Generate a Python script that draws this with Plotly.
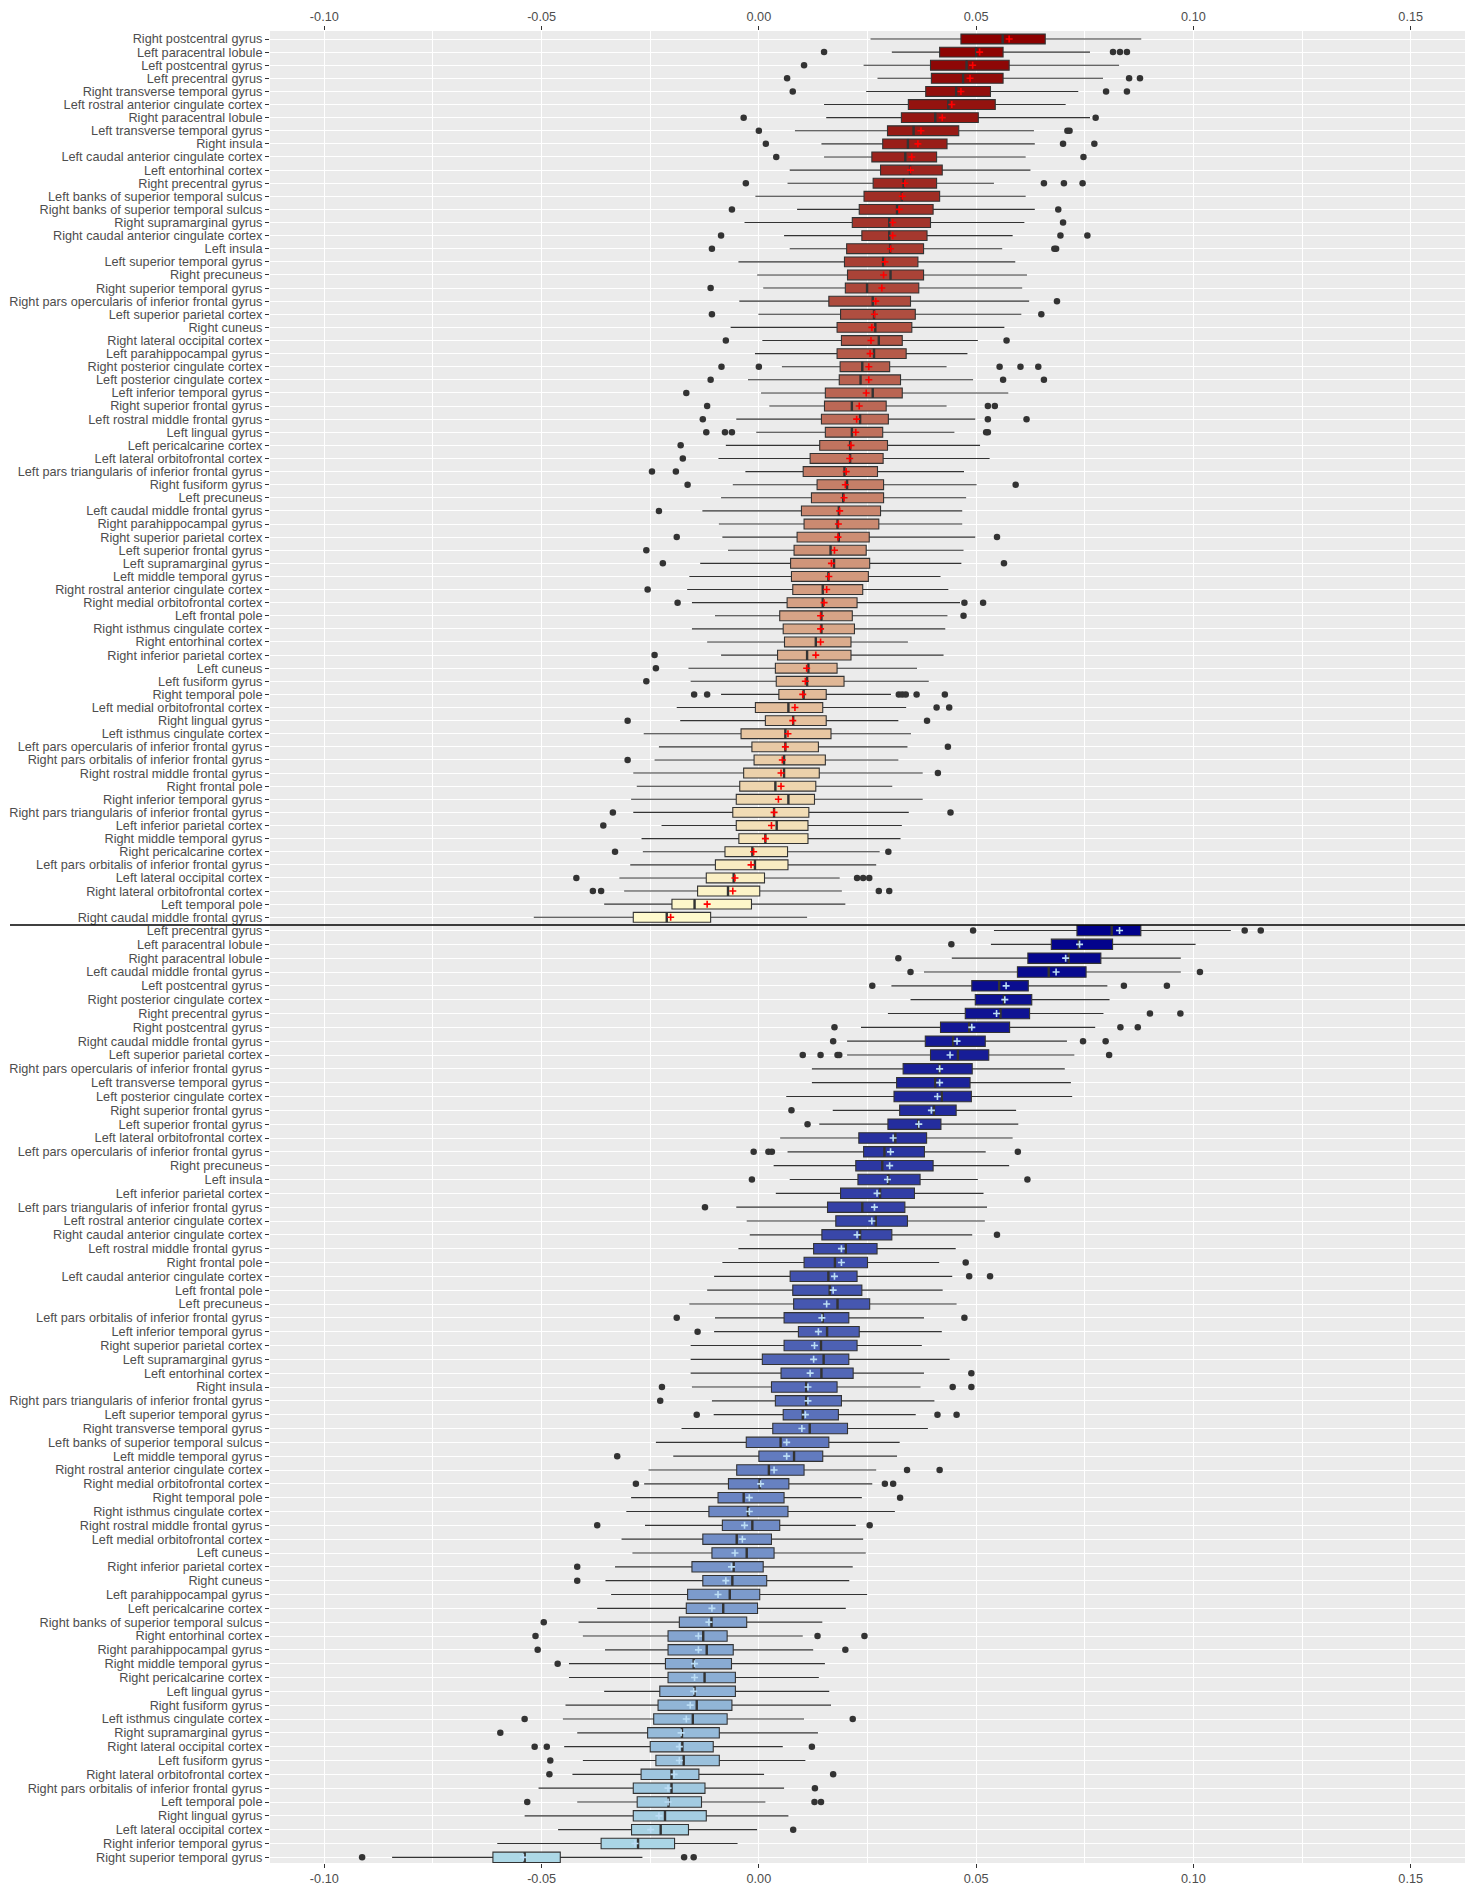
import plotly.graph_objects as go

# ---------------- data: top panel ----------------
top_labels = [
    "Right postcentral gyrus", "Left paracentral lobule", "Left postcentral gyrus", "Left precentral gyrus",
    "Right transverse temporal gyrus", "Left rostral anterior cingulate cortex", "Right paracentral lobule",
    "Left transverse temporal gyrus", "Right insula", "Left caudal anterior cingulate cortex", "Left entorhinal cortex",
    "Right precentral gyrus", "Left banks of superior temporal sulcus", "Right banks of superior temporal sulcus",
    "Right supramarginal gyrus", "Right caudal anterior cingulate cortex", "Left insula", "Left superior temporal gyrus",
    "Right precuneus", "Right superior temporal gyrus", "Right pars opercularis of inferior frontal gyrus",
    "Left superior parietal cortex", "Right cuneus", "Right lateral occipital cortex", "Left parahippocampal gyrus",
    "Right posterior cingulate cortex", "Left posterior cingulate cortex", "Left inferior temporal gyrus",
    "Right superior frontal gyrus", "Left rostral middle frontal gyrus", "Left lingual gyrus", "Left pericalcarine cortex",
    "Left lateral orbitofrontal cortex", "Left pars triangularis of inferior frontal gyrus", "Right fusiform gyrus",
    "Left precuneus", "Left caudal middle frontal gyrus", "Right parahippocampal gyrus", "Right superior parietal cortex",
    "Left superior frontal gyrus", "Left supramarginal gyrus", "Left middle temporal gyrus",
    "Right rostral anterior cingulate cortex", "Right medial orbitofrontal cortex", "Left frontal pole",
    "Right isthmus cingulate cortex", "Right entorhinal cortex", "Right inferior parietal cortex", "Left cuneus",
    "Left fusiform gyrus", "Right temporal pole", "Left medial orbitofrontal cortex", "Right lingual gyrus",
    "Left isthmus cingulate cortex", "Left pars opercularis of inferior frontal gyrus",
    "Right pars orbitalis of inferior frontal gyrus", "Right rostral middle frontal gyrus", "Right frontal pole",
    "Right inferior temporal gyrus", "Right pars triangularis of inferior frontal gyrus", "Left inferior parietal cortex",
    "Right middle temporal gyrus", "Right pericalcarine cortex", "Left pars orbitalis of inferior frontal gyrus",
    "Left lateral occipital cortex", "Right lateral orbitofrontal cortex", "Left temporal pole",
    "Right caudal middle frontal gyrus",
]
top_low = [0.0257, 0.0306, 0.0241, 0.0273, 0.0247, 0.0150, 0.0155, 0.0083, 0.0144, 0.0150, 0.0071, 0.0066, -0.0008,
           0.0088, -0.0033, 0.0058, 0.0071, -0.0047, -0.0004, 0.0010, -0.0045, -0.0001, -0.0065, 0.0008, -0.0009,
           0.0053, -0.0025, 0.0005, 0.0024, -0.0052, -0.0006, -0.0076, -0.0093, -0.0031, -0.0060, -0.0087, -0.0130,
           -0.0092, -0.0084, -0.0071, -0.0135, -0.0160, -0.0165, -0.0154, -0.0101, -0.0154, -0.0119, -0.0087, -0.0162,
           -0.0157, -0.0087, -0.0189, -0.0181, -0.0265, -0.0230, -0.0240, -0.0289, -0.0281, -0.0294, -0.0289, -0.0224,
           -0.0270, -0.0267, -0.0296, -0.0321, -0.0310, -0.0356, -0.0518]
top_q1 = [0.0465, 0.0416, 0.0395, 0.0397, 0.0384, 0.0344, 0.0328, 0.0296, 0.0285, 0.0260, 0.0280, 0.0263, 0.0242,
          0.0231, 0.0215, 0.0237, 0.0202, 0.0197, 0.0204, 0.0199, 0.0161, 0.0188, 0.0180, 0.0190, 0.0180, 0.0187,
          0.0185, 0.0153, 0.0151, 0.0144, 0.0153, 0.0140, 0.0118, 0.0102, 0.0134, 0.0121, 0.0098, 0.0104, 0.0088,
          0.0081, 0.0073, 0.0075, 0.0078, 0.0065, 0.0048, 0.0056, 0.0059, 0.0043, 0.0038, 0.0040, 0.0046, -0.0008,
          0.0015, -0.0041, -0.0016, -0.0011, -0.0035, -0.0044, -0.0052, -0.0060, -0.0052, -0.0046, -0.0078, -0.0100,
          -0.0121, -0.0141, -0.0200, -0.0289]
top_med = [0.0561, 0.0500, 0.0478, 0.0470, 0.0454, 0.0436, 0.0406, 0.0356, 0.0343, 0.0337, 0.0348, 0.0333, 0.0329,
           0.0318, 0.0300, 0.0300, 0.0302, 0.0286, 0.0303, 0.0249, 0.0262, 0.0265, 0.0268, 0.0276, 0.0265, 0.0238,
           0.0234, 0.0262, 0.0214, 0.0233, 0.0214, 0.0210, 0.0210, 0.0197, 0.0203, 0.0194, 0.0184, 0.0181, 0.0184,
           0.0165, 0.0173, 0.0160, 0.0147, 0.0147, 0.0144, 0.0144, 0.0131, 0.0111, 0.0114, 0.0111, 0.0103, 0.0068,
           0.0079, 0.0061, 0.0061, 0.0058, 0.0058, 0.0038, 0.0068, 0.0035, 0.0041, 0.0015, -0.0015, -0.0009, -0.0058,
           -0.0071, -0.0148, -0.0212]
top_q3 = [0.0659, 0.0562, 0.0576, 0.0562, 0.0533, 0.0544, 0.0505, 0.0460, 0.0433, 0.0409, 0.0422, 0.0409, 0.0416,
          0.0401, 0.0395, 0.0387, 0.0379, 0.0366, 0.0379, 0.0368, 0.0349, 0.0360, 0.0352, 0.0330, 0.0339, 0.0301,
          0.0326, 0.0330, 0.0293, 0.0298, 0.0285, 0.0296, 0.0286, 0.0273, 0.0287, 0.0287, 0.0280, 0.0276, 0.0254,
          0.0247, 0.0255, 0.0252, 0.0239, 0.0226, 0.0215, 0.0220, 0.0212, 0.0212, 0.0180, 0.0196, 0.0155, 0.0147,
          0.0155, 0.0166, 0.0137, 0.0153, 0.0139, 0.0131, 0.0128, 0.0115, 0.0113, 0.0113, 0.0066, 0.0067, 0.0013,
          0.0002, -0.0017, -0.0111]
top_high = [0.0880, 0.0762, 0.0829, 0.0792, 0.0735, 0.0706, 0.0762, 0.0633, 0.0635, 0.0614, 0.0625, 0.0541, 0.0614,
            0.0635, 0.0611, 0.0584, 0.0560, 0.0590, 0.0617, 0.0606, 0.0622, 0.0604, 0.0565, 0.0504, 0.0480, 0.0432,
            0.0493, 0.0574, 0.0432, 0.0498, 0.0450, 0.0509, 0.0531, 0.0472, 0.0501, 0.0477, 0.0468, 0.0468, 0.0498,
            0.0471, 0.0466, 0.0418, 0.0436, 0.0463, 0.0434, 0.0429, 0.0343, 0.0425, 0.0364, 0.0391, 0.0304, 0.0339,
            0.0321, 0.0350, 0.0342, 0.0321, 0.0377, 0.0307, 0.0377, 0.0345, 0.0329, 0.0326, 0.0278, 0.0270, 0.0186,
            0.0191, 0.0199, 0.0111]
top_mean = [0.0576, 0.0508, 0.0492, 0.0486, 0.0465, 0.0444, 0.0422, 0.0373, 0.0366, 0.0352, 0.0349, 0.0336, 0.0330,
            0.0323, 0.0308, 0.0308, 0.0303, 0.0290, 0.0287, 0.0283, 0.0269, 0.0266, 0.0260, 0.0258, 0.0256, 0.0253,
            0.0253, 0.0247, 0.0231, 0.0225, 0.0223, 0.0212, 0.0209, 0.0201, 0.0199, 0.0196, 0.0186, 0.0183, 0.0182,
            0.0174, 0.0167, 0.0161, 0.0156, 0.0150, 0.0142, 0.0142, 0.0142, 0.0131, 0.0110, 0.0107, 0.0101, 0.0083,
            0.0078, 0.0067, 0.0061, 0.0054, 0.0051, 0.0051, 0.0045, 0.0035, 0.0029, 0.0015, -0.0012, -0.0018, -0.0055,
            -0.0060, -0.0119, -0.0203]
top_out = [
    [], [0.0150, 0.0815, 0.0831, 0.0847], [0.0104], [0.0065, 0.0852, 0.0877], [0.0078, 0.0799, 0.0847], [],
    [-0.0035, 0.0775], [0.0000, 0.0710, 0.0715], [0.0016, 0.0700, 0.0772], [0.0040, 0.0747], [],
    [-0.0030, 0.0656, 0.0702, 0.0745], [], [-0.0062, 0.0689], [0.0700], [-0.0087, 0.0694, 0.0756],
    [-0.0108, 0.0680, 0.0684], [], [], [-0.0111], [0.0686], [-0.0108, 0.0650], [], [-0.0076, 0.0570], [],
    [-0.0086, 0.0000, 0.0554, 0.0602, 0.0643], [-0.0111, 0.0562, 0.0656], [-0.0167], [-0.0119, 0.0527, 0.0543],
    [-0.0129, 0.0527, 0.0616], [-0.0121, -0.0078, -0.0062, 0.0523, 0.0527], [-0.0180], [-0.0175], [-0.0246, -0.0191],
    [-0.0164, 0.0591], [], [-0.0230], [], [-0.0189, 0.0548], [-0.0259], [-0.0221, 0.0564], [], [-0.0256],
    [-0.0187, 0.0473, 0.0516], [0.0471], [], [], [-0.0240], [-0.0237], [-0.0259],
    [-0.0149, -0.0119, 0.0322, 0.0330, 0.0338, 0.0363, 0.0428], [0.0409, 0.0438], [-0.0302, 0.0387], [], [0.0435],
    [-0.0302], [0.0412], [], [], [-0.0336, 0.0441], [-0.0358], [], [-0.0331, 0.0298], [],
    [-0.0420, 0.0226, 0.0240, 0.0254], [-0.0382, -0.0363, 0.0276, 0.0300], [], [],
]

# ---------------- data: bottom panel ----------------
bot_labels = [
    "Left precentral gyrus", "Left paracentral lobule", "Right paracentral lobule", "Left caudal middle frontal gyrus",
    "Left postcentral gyrus", "Right posterior cingulate cortex", "Right precentral gyrus", "Right postcentral gyrus",
    "Right caudal middle frontal gyrus", "Left superior parietal cortex",
    "Right pars opercularis of inferior frontal gyrus", "Left transverse temporal gyrus",
    "Left posterior cingulate cortex", "Right superior frontal gyrus", "Left superior frontal gyrus",
    "Left lateral orbitofrontal cortex", "Left pars opercularis of inferior frontal gyrus", "Right precuneus",
    "Left insula", "Left inferior parietal cortex", "Left pars triangularis of inferior frontal gyrus",
    "Left rostral anterior cingulate cortex", "Right caudal anterior cingulate cortex",
    "Left rostral middle frontal gyrus", "Right frontal pole", "Left caudal anterior cingulate cortex",
    "Left frontal pole", "Left precuneus", "Left pars orbitalis of inferior frontal gyrus",
    "Left inferior temporal gyrus", "Right superior parietal cortex", "Left supramarginal gyrus",
    "Left entorhinal cortex", "Right insula", "Right pars triangularis of inferior frontal gyrus",
    "Left superior temporal gyrus", "Right transverse temporal gyrus", "Left banks of superior temporal sulcus",
    "Left middle temporal gyrus", "Right rostral anterior cingulate cortex", "Right medial orbitofrontal cortex",
    "Right temporal pole", "Right isthmus cingulate cortex", "Right rostral middle frontal gyrus",
    "Left medial orbitofrontal cortex", "Left cuneus", "Right inferior parietal cortex", "Right cuneus",
    "Left parahippocampal gyrus", "Left pericalcarine cortex", "Right banks of superior temporal sulcus",
    "Right entorhinal cortex", "Right parahippocampal gyrus", "Right middle temporal gyrus",
    "Right pericalcarine cortex", "Left lingual gyrus", "Right fusiform gyrus", "Left isthmus cingulate cortex",
    "Right supramarginal gyrus", "Right lateral occipital cortex", "Left fusiform gyrus",
    "Right lateral orbitofrontal cortex", "Right pars orbitalis of inferior frontal gyrus", "Left temporal pole",
    "Right lingual gyrus", "Left lateral occipital cortex", "Right inferior temporal gyrus",
    "Right superior temporal gyrus",
]
bot_low = [0.0541, 0.0534, 0.0444, 0.0380, 0.0305, 0.0349, 0.0297, 0.0235, 0.0203, 0.0203, 0.0122, 0.0122, 0.0063,
           0.0170, 0.0139, 0.0049, 0.0066, 0.0034, 0.0071, 0.0039, -0.0052, -0.0028, -0.0021, -0.0047, -0.0084,
           -0.0103, -0.0119, -0.0160, -0.0101, -0.0103, -0.0157, -0.0157, -0.0157, -0.0154, -0.0108, -0.0104, -0.0178,
           -0.0237, -0.0197, -0.0254, -0.0264, -0.0294, -0.0305, -0.0262, -0.0316, -0.0291, -0.0331, -0.0353, -0.0340,
           -0.0372, -0.0415, -0.0405, -0.0354, -0.0437, -0.0437, -0.0356, -0.0445, -0.0451, -0.0418, -0.0448, -0.0405,
           -0.0429, -0.0507, -0.0418, -0.0539, -0.0462, -0.0602, -0.0844]
bot_q1 = [0.0732, 0.0673, 0.0619, 0.0595, 0.0490, 0.0498, 0.0475, 0.0418, 0.0383, 0.0395, 0.0332, 0.0317, 0.0311,
          0.0324, 0.0297, 0.0230, 0.0241, 0.0223, 0.0228, 0.0188, 0.0158, 0.0177, 0.0145, 0.0126, 0.0104, 0.0072,
          0.0078, 0.0080, 0.0058, 0.0091, 0.0058, 0.0008, 0.0051, 0.0029, 0.0038, 0.0056, 0.0032, -0.0029, 0.0000,
          -0.0051, -0.0070, -0.0094, -0.0115, -0.0084, -0.0129, -0.0108, -0.0154, -0.0129, -0.0164, -0.0167, -0.0183,
          -0.0209, -0.0209, -0.0215, -0.0209, -0.0228, -0.0232, -0.0242, -0.0256, -0.0250, -0.0237, -0.0271, -0.0289,
          -0.0280, -0.0289, -0.0293, -0.0363, -0.0612]
bot_med = [0.0812, 0.0736, 0.0713, 0.0667, 0.0553, 0.0564, 0.0556, 0.0484, 0.0447, 0.0458, 0.0416, 0.0406, 0.0421,
           0.0403, 0.0367, 0.0314, 0.0289, 0.0284, 0.0298, 0.0279, 0.0238, 0.0269, 0.0233, 0.0200, 0.0175, 0.0160,
           0.0163, 0.0181, 0.0147, 0.0157, 0.0143, 0.0149, 0.0144, 0.0109, 0.0109, 0.0101, 0.0117, 0.0050, 0.0081,
           0.0023, 0.0002, -0.0035, -0.0025, -0.0015, -0.0051, -0.0028, -0.0058, -0.0061, -0.0067, -0.0082, -0.0109,
           -0.0128, -0.0120, -0.0150, -0.0125, -0.0148, -0.0143, -0.0152, -0.0177, -0.0176, -0.0173, -0.0201, -0.0201,
           -0.0208, -0.0216, -0.0226, -0.0278, -0.0539]
bot_q3 = [0.0879, 0.0814, 0.0787, 0.0753, 0.0620, 0.0628, 0.0623, 0.0577, 0.0521, 0.0529, 0.0491, 0.0486, 0.0489,
          0.0454, 0.0419, 0.0386, 0.0381, 0.0401, 0.0371, 0.0358, 0.0336, 0.0342, 0.0306, 0.0272, 0.0250, 0.0226,
          0.0237, 0.0255, 0.0207, 0.0231, 0.0226, 0.0207, 0.0217, 0.0180, 0.0190, 0.0183, 0.0204, 0.0161, 0.0147,
          0.0104, 0.0069, 0.0058, 0.0067, 0.0048, 0.0029, 0.0035, 0.0010, 0.0018, 0.0002, -0.0003, -0.0028, -0.0073,
          -0.0059, -0.0063, -0.0054, -0.0054, -0.0062, -0.0073, -0.0091, -0.0105, -0.0091, -0.0138, -0.0124, -0.0132,
          -0.0121, -0.0162, -0.0194, -0.0457]
bot_high = [0.1086, 0.1005, 0.0971, 0.0971, 0.0802, 0.0807, 0.0793, 0.0774, 0.0709, 0.0726, 0.0704, 0.0718, 0.0721,
            0.0592, 0.0597, 0.0584, 0.0522, 0.0576, 0.0504, 0.0517, 0.0525, 0.0520, 0.0491, 0.0453, 0.0415, 0.0445,
            0.0423, 0.0455, 0.0380, 0.0421, 0.0375, 0.0439, 0.0380, 0.0372, 0.0404, 0.0361, 0.0389, 0.0324, 0.0318,
            0.0270, 0.0261, 0.0237, 0.0313, 0.0223, 0.0240, 0.0246, 0.0216, 0.0208, 0.0249, 0.0200, 0.0146, 0.0101,
            0.0125, 0.0152, 0.0138, 0.0162, 0.0166, 0.0104, 0.0136, 0.0055, 0.0107, 0.0012, 0.0058, 0.0015, 0.0068,
            -0.0004, -0.0049, -0.0268]
bot_mean = [0.0830, 0.0738, 0.0706, 0.0684, 0.0569, 0.0566, 0.0547, 0.0490, 0.0456, 0.0440, 0.0416, 0.0416, 0.0411,
            0.0397, 0.0368, 0.0309, 0.0303, 0.0301, 0.0296, 0.0272, 0.0266, 0.0260, 0.0226, 0.0190, 0.0190, 0.0174,
            0.0171, 0.0156, 0.0145, 0.0137, 0.0128, 0.0126, 0.0118, 0.0113, 0.0113, 0.0107, 0.0099, 0.0064, 0.0064,
            0.0035, 0.0004, -0.0022, -0.0022, -0.0033, -0.0038, -0.0055, -0.0063, -0.0076, -0.0094, -0.0108, -0.0115,
            -0.0139, -0.0139, -0.0148, -0.0148, -0.0150, -0.0158, -0.0167, -0.0179, -0.0183, -0.0183, -0.0195, -0.0209,
            -0.0209, -0.0230, -0.0249, -0.0285, -0.0542]
bot_out = [
    [0.0493, 0.1118, 0.1155], [0.0443], [0.0321], [0.0349, 0.1015], [0.0261, 0.0840, 0.0939], [], [0.0900, 0.0970],
    [0.0174, 0.0832, 0.0872], [0.0171, 0.0746, 0.0798], [0.0101, 0.0142, 0.0181, 0.0185, 0.0806], [], [], [],
    [0.0075], [0.0112], [], [-0.0012, 0.0022, 0.0030, 0.0596], [], [-0.0016, 0.0618], [], [-0.0124], [], [0.0548],
    [], [0.0476], [0.0484, 0.0532], [], [], [-0.0189, 0.0473], [-0.0141], [], [], [0.0489], [-0.0223, 0.0446, 0.0489],
    [-0.0227], [-0.0143, 0.0411, 0.0455], [], [], [-0.0326], [0.0341, 0.0416], [-0.0283, 0.0290, 0.0309], [0.0325],
    [], [-0.0372, 0.0255], [], [], [-0.0418], [-0.0418], [], [], [-0.0495], [-0.0514, 0.0135, 0.0243],
    [-0.0509, 0.0199], [-0.0463], [], [], [], [-0.0539, 0.0216], [-0.0595], [-0.0516, -0.0488, 0.0122], [-0.0480],
    [-0.0482, 0.0171], [0.0129], [-0.0533, 0.0128, 0.0143], [], [0.0079], [], [-0.0913, -0.0172, -0.0150],
]

x_ticks = [-0.10, -0.05, 0.00, 0.05, 0.10, 0.15]
x_ticktext = ["-0.10", "-0.05", "0.00", "0.05", "0.10", "0.15"]
x_minor = [-0.075, -0.025, 0.025, 0.075, 0.125]

# ---------------- styling ----------------
FONT = "Liberation Sans, Arial, sans-serif"
FSIZE = 12.7
TXT = "#4D4D4D"
BOX_W = 0.75


def ramp(c0, c1, n):
    out = []
    for i in range(n):
        t = i / (n - 1)
        out.append("rgb(%d,%d,%d)" % tuple(round(a + (b - a) * t) for a, b in zip(c0, c1)))
    return out


top_cols = ramp((139, 0, 0), (255, 250, 205), len(top_labels))
bot_cols = ramp((0, 0, 139), (173, 216, 230), len(bot_labels))

fig = go.Figure()


def add_panel(labels, low, q1, med, q3, high, mean, outs, cols, xa, ya, mean_col):
    pos = list(range(1, len(labels) + 1))
    for i, p in enumerate(pos):
        fig.add_trace(go.Box(
            y=[p], q1=[q1[i]], median=[med[i]], q3=[q3[i]],
            lowerfence=[low[i]], upperfence=[high[i]],
            orientation="h", boxpoints=False, width=BOX_W, whiskerwidth=0,
            fillcolor=cols[i], line=dict(color="#333333", width=1.1),
            xaxis=xa, yaxis=ya, hoverinfo="skip", showlegend=False,
        ))
    mx, my = [], []
    for i, p in enumerate(pos):
        mx += [med[i], med[i], None]
        my += [p - BOX_W / 2, p + BOX_W / 2, None]
    fig.add_trace(go.Scatter(x=mx, y=my, mode="lines", line=dict(color="#333333", width=2.4),
                             xaxis=xa, yaxis=ya, hoverinfo="skip", showlegend=False))
    ox, oy = [], []
    for i, p in enumerate(pos):
        for v in outs[i]:
            ox.append(v)
            oy.append(p)
    fig.add_trace(go.Scatter(x=ox, y=oy, mode="markers", marker=dict(color="#333333", size=6.5),
                             xaxis=xa, yaxis=ya, hoverinfo="skip", showlegend=False))
    fig.add_trace(go.Scatter(x=mean, y=pos, mode="markers",
                             marker=dict(symbol="cross-thin", size=5, color=mean_col,
                                         line=dict(color=mean_col, width=1.6)),
                             xaxis=xa, yaxis=ya, hoverinfo="skip", showlegend=False))


add_panel(top_labels, top_low, top_q1, top_med, top_q3, top_high, top_mean, top_out, top_cols, "x", "y", "#FF0000")
add_panel(bot_labels, bot_low, bot_q1, bot_med, bot_q3, bot_high, bot_mean, bot_out, bot_cols, "x2", "y2", "#BBDDF5")

# page has an 8px body margin: figure sits at (8, 8) in the window
OFF = 8
W, H = 1475 - OFF, 1889 - OFF
ML, MR, MT, MB = 270 - OFF, 10, 31 - OFF, 26
plot_h = H - MT - MB
split = 1 - (925 - 31) / plot_h

xcommon = dict(
    range=[-0.1125, 0.1625], tickmode="array", tickvals=x_ticks, ticktext=x_ticktext,
    showgrid=True, gridcolor="white", gridwidth=1.3, zeroline=False, showline=False, automargin=False,
    ticks="outside", ticklen=4, tickwidth=1, tickcolor="#333333",
    tickfont=dict(family=FONT, size=FSIZE, color=TXT),
    minor=dict(tickmode="array", tickvals=x_minor, showgrid=True, gridcolor="white", gridwidth=0.6, ticks=""),
)
ycommon = dict(
    tickmode="array", showgrid=True, gridcolor="white", gridwidth=1.3, zeroline=False, showline=False,
    automargin=False, ticks="outside", ticklen=4, tickwidth=1, tickcolor="#333333",
    tickfont=dict(family=FONT, size=FSIZE, color=TXT),
)

fig.update_layout(
    width=W, height=H, margin=dict(l=ML, r=MR, t=MT, b=MB, autoexpand=False),
    plot_bgcolor="#EBEBEB", paper_bgcolor="white", showlegend=False, boxmode="overlay",
    xaxis=dict(domain=[0, 1], anchor="y", side="top", **xcommon),
    yaxis=dict(domain=[split, 1], anchor="x", range=[68.59, 0.39],
               tickvals=list(range(1, len(top_labels) + 1)), ticktext=top_labels, **ycommon),
    xaxis2=dict(domain=[0, 1], anchor="y2", side="bottom", matches="x", **xcommon),
    yaxis2=dict(domain=[0, split], anchor="x2", range=[68.41, 0.602],
                tickvals=list(range(1, len(bot_labels) + 1)), ticktext=bot_labels, **ycommon),
    shapes=[dict(type="line", xref="paper", yref="paper", x0=(10 - 270) / (W - ML - MR), x1=1.0,
                 y0=split, y1=split, line=dict(color="black", width=1.5))],
)

fig.write_html("out.html")
